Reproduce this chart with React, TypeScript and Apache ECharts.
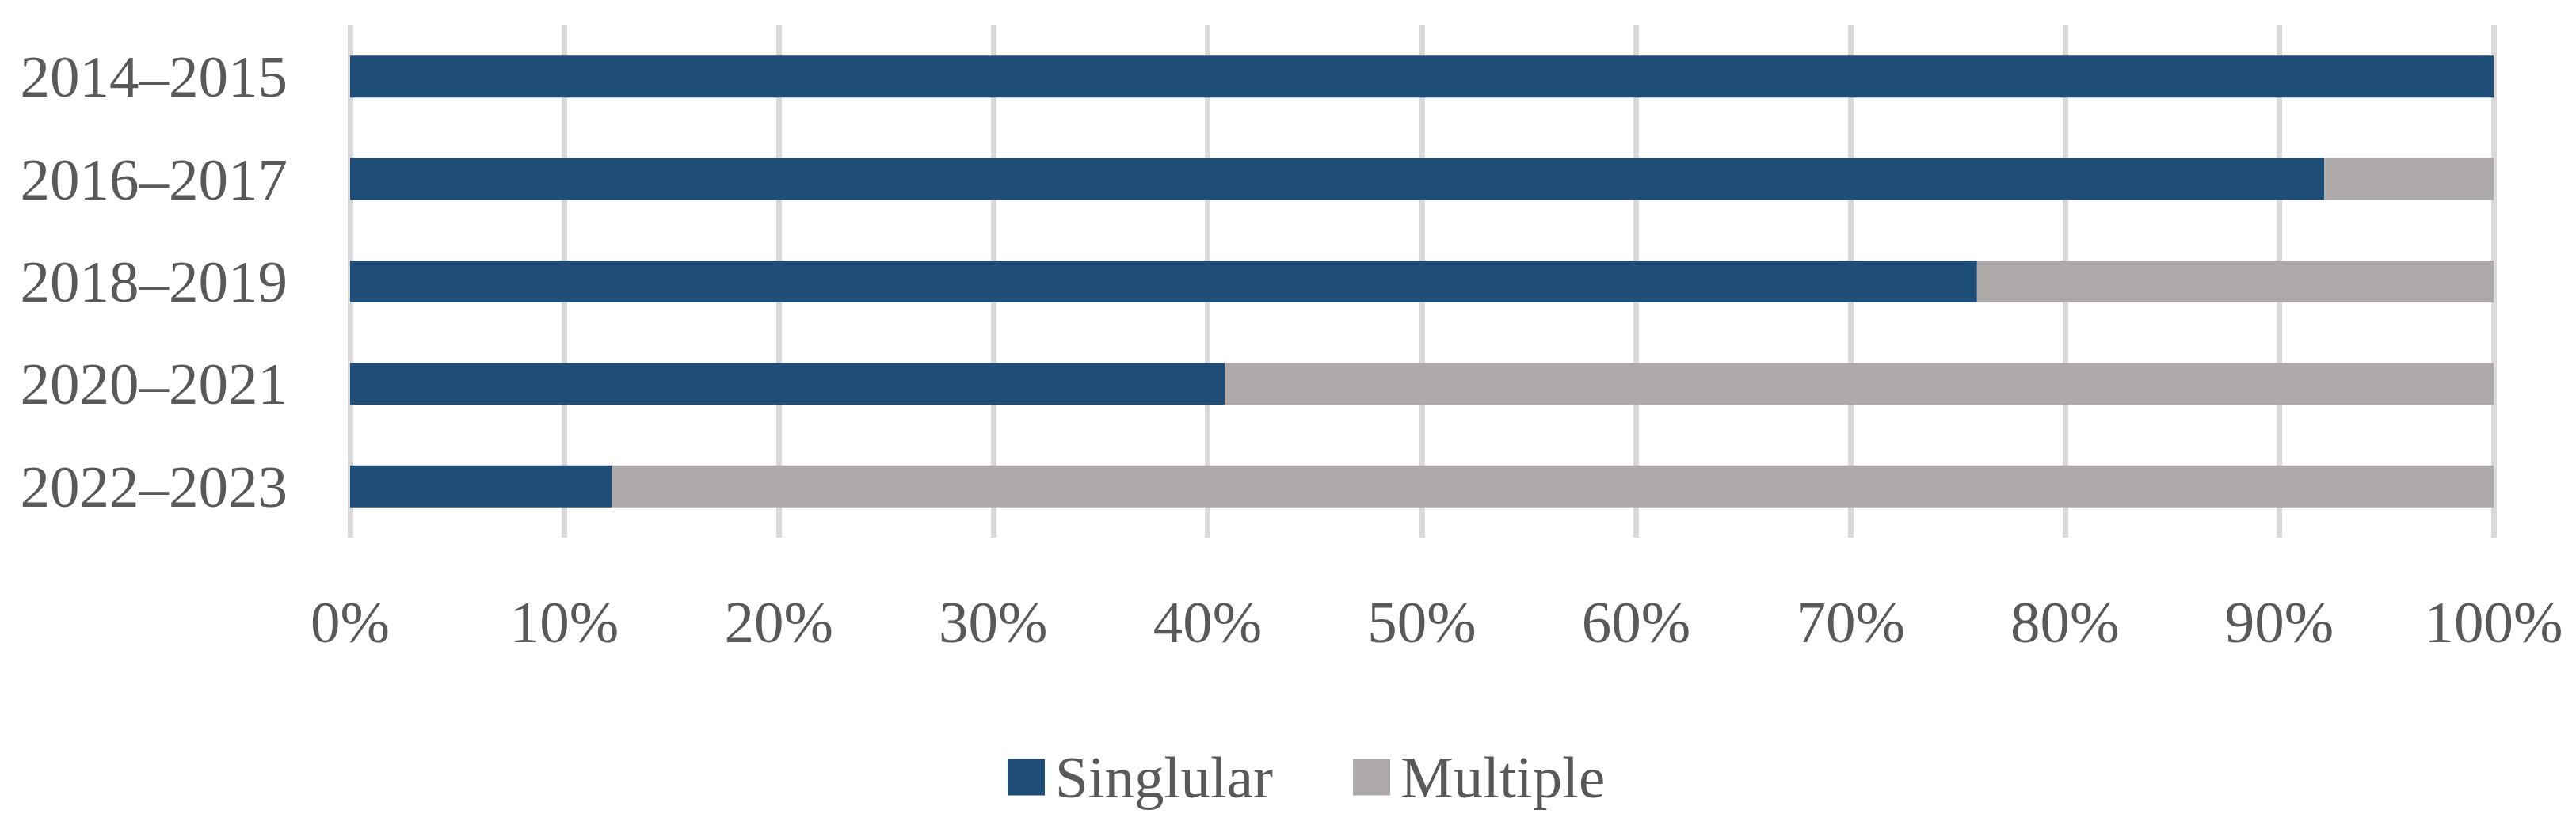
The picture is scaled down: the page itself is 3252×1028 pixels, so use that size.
import React, { useEffect, useRef } from "react";
import * as echarts from "echarts";

const categories = ["2014–2015", "2016–2017", "2018–2019", "2020–2021", "2022–2023"];
const singularValues = [100, 92.1, 75.9, 40.8, 12.2];
const multipleValues = [0, 7.9, 24.1, 59.2, 87.8];
const seriesNames = ["Singlular", "Multiple"];
const colors = ["#1F4E79", "#AEAAAA"];

const FONT = "'Liberation Serif', 'Times New Roman', serif";
const TEXT_COLOR = "#595959";

export default function App() {
  const ref = useRef<HTMLDivElement>(null);
  useEffect(() => {
    if (!ref.current) return;
    const chart = echarts.init(ref.current, null, { renderer: "svg" });
    chart.setOption({
      animation: false,
      backgroundColor: "#ffffff",
      color: colors,
      textStyle: { fontFamily: FONT, color: TEXT_COLOR },
      grid: { left: 442, right: 3252 - 3148, top: 32, bottom: 1028 - 679, containLabel: false },
      legend: {
        left: 1267,
        top: 939,
        itemWidth: 47,
        itemHeight: 46,
        itemGap: 101,
        icon: "rect",
        textStyle: { fontFamily: FONT, fontSize: 75, color: TEXT_COLOR, padding: [0, 0, 0, 8] },
        data: seriesNames,
      },
      xAxis: {
        type: "value",
        min: 0,
        max: 100,
        interval: 10,
        axisLine: { show: false },
        axisTick: { show: false },
        splitLine: { show: true, lineStyle: { color: "#D9D9D9", width: 7 } },
        axisLabel: {
          formatter: "{value}%",
          fontFamily: FONT,
          fontSize: 75,
          color: TEXT_COLOR,
          margin: 69,
        },
      },
      yAxis: {
        type: "category",
        data: categories,
        inverse: true,
        axisLine: { show: false },
        axisTick: { show: false },
        splitLine: { show: false },
        axisLabel: { fontFamily: FONT, fontSize: 75, color: TEXT_COLOR, margin: 79 },
      },
      series: [
        {
          name: seriesNames[0],
          type: "bar",
          stack: "total",
          barWidth: 53,
          data: singularValues,
          itemStyle: { color: colors[0] },
        },
        {
          name: seriesNames[1],
          type: "bar",
          stack: "total",
          barWidth: 53,
          data: multipleValues,
          itemStyle: { color: colors[1] },
        },
      ],
    });
    return () => chart.dispose();
  }, []);
  return (
    <div
      ref={ref}
      style={{ position: "fixed", left: 0, top: 0, width: 3252, height: 1028, background: "#fff" }}
    />
  );
}
